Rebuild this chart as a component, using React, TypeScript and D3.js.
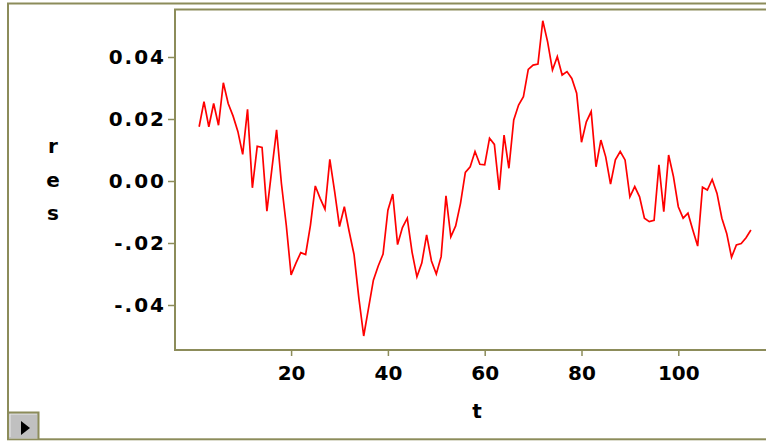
import { useEffect, useRef } from 'react';
import * as d3 from 'd3';

// residuals, t = 1..115
const residuals = [
  0.0175, 0.0256, 0.0175, 0.0250, 0.0180, 0.0317, 0.0250, 0.0210, 0.0160, 0.0086,
  0.0231, -0.0022, 0.0112, 0.0108, -0.0097, 0.0035, 0.0165, -0.0008, -0.0142, -0.0303,
  -0.0265, -0.0231, -0.0237, -0.0142, -0.0016, -0.0056, -0.0091, 0.0070, -0.0034, -0.0147,
  -0.0083, -0.0163, -0.0237, -0.0378, -0.0500, -0.0410, -0.0320, -0.0274, -0.0236, -0.0094,
  -0.0042, -0.0205, -0.0150, -0.0120, -0.0230, -0.0309, -0.0265, -0.0174, -0.0258, -0.0300,
  -0.0244, -0.0048, -0.0180, -0.0145, -0.0072, 0.0028, 0.0046, 0.0095, 0.0054, 0.0052,
  0.0138, 0.0118, -0.0029, 0.0148, 0.0041, 0.0197, 0.0245, 0.0272, 0.0360, 0.0374,
  0.0377, 0.0517, 0.0449, 0.0358, 0.0401, 0.0342, 0.0353, 0.0331, 0.0283, 0.0125,
  0.0191, 0.0224, 0.0046, 0.0132, 0.0078, -0.0010, 0.0068, 0.0095, 0.0068, -0.0051,
  -0.0018, -0.0051, -0.0120, -0.0131, -0.0127, 0.0052, -0.0099, 0.0084, 0.0014, -0.0083,
  -0.0120, -0.0104, -0.0158, -0.0210, -0.0020, -0.0029, 0.0005, -0.0040, -0.0120, -0.0169,
  -0.0246, -0.0206, -0.0202, -0.0183, -0.0158,
];

const xTicks = [20, 40, 60, 80, 100];
const yTicks = [0.04, 0.02, 0, -0.02, -0.04];
const yTickLabels = ['0.04', '0.02', '0.00', '-.02', '-.04'];
const yTitle = ['r', 'e', 's'];
const xTitle = 't';

const W = 766, H = 441;
const FRAME = '#8c8c5a';
const FONT = '"DejaVu Sans", Verdana, sans-serif';

export default function App() {
  const svgRef = useRef<SVGSVGElement>(null);

  useEffect(() => {
    if (!svgRef.current) return;
    const svg = d3.select(svgRef.current);
    svg.selectAll('*').remove();

    const x = d3.scaleLinear().domain([0, 115]).range([194.3, 750.9]);
    const y = d3.scaleLinear().domain([-0.04, 0.04]).range([305, 57]);

    svg.append('rect').attr('width', W).attr('height', H).attr('fill', '#fff');

    // outer window frame
    svg.append('rect')
      .attr('x', 8).attr('y', 3.5).attr('width', 820).attr('height', 435.8)
      .attr('fill', 'none').attr('stroke', FRAME).attr('stroke-width', 2);

    // plot frame
    svg.append('rect')
      .attr('x', 175).attr('y', 9.5).attr('width', 700).attr('height', 340.5)
      .attr('fill', 'none').attr('stroke', FRAME).attr('stroke-width', 2);

    // Axes
    svg.append('g')
      .attr('transform', 'translate(175,0)')
      .call(d3.axisLeft(y).tickValues(yTicks).tickSize(7).tickPadding(2)
        .tickFormat((_d, i) => yTickLabels[i]))
      .call(gg => gg.select('.domain').remove())
      .call(gg => gg.selectAll('.tick line').attr('stroke', FRAME).attr('stroke-width', 1.5))
      .call(gg => gg.selectAll('text')
        .attr('font-family', FONT).attr('font-size', 20).attr('font-weight', 'bold')
        .attr('letter-spacing', 2).attr('fill', '#000'));

    svg.append('g')
      .attr('transform', 'translate(0,350)')
      .call(d3.axisBottom(x).tickValues(xTicks).tickSize(6).tickPadding(10)
        .tickFormat(d => String(d)))
      .call(gg => gg.select('.domain').remove())
      .call(gg => gg.selectAll('.tick line').attr('stroke', FRAME).attr('stroke-width', 1.5))
      .call(gg => gg.selectAll('text')
        .attr('font-family', FONT).attr('font-size', 20).attr('font-weight', 'bold')
        .attr('fill', '#000'));

    // titles
    svg.append('g').selectAll('text')
      .data(yTitle)
      .enter().append('text')
      .attr('x', 53).attr('y', (_d, i) => 153 + i * 33.5)
      .attr('text-anchor', 'middle')
      .attr('font-family', FONT).attr('font-size', 20).attr('font-weight', 'bold')
      .text(d => d);

    svg.append('text')
      .attr('x', 477).attr('y', 418)
      .attr('text-anchor', 'middle')
      .attr('font-family', FONT).attr('font-size', 20).attr('font-weight', 'bold')
      .text(xTitle);

    // Line
    const line = d3.line<number>()
      .x((_d, i) => x(i + 1))
      .y(d => y(d));

    svg.append('path')
      .datum(residuals)
      .attr('d', line)
      .attr('fill', 'none')
      .attr('stroke', '#ff0000')
      .attr('stroke-width', 1.7)
      .attr('stroke-linejoin', 'miter');

    // little scroll button, bottom-left
    const btn = svg.append('g');
    btn.append('rect').attr('x', 9).attr('y', 413).attr('width', 29).attr('height', 25.5)
      .attr('fill', '#c0c0c0');
    btn.append('path').attr('d', 'M10,437 V414 H37').attr('fill', 'none')
      .attr('stroke', '#e8e8e8').attr('stroke-width', 1);
    btn.append('path').attr('d', 'M8,412.5 H38.5 V439').attr('fill', 'none')
      .attr('stroke', FRAME).attr('stroke-width', 2);
    btn.append('path').attr('d', 'M21,421 L30,428 L21,435 Z').attr('fill', '#000');
  }, []);

  return (
    <div style={{ position: 'absolute', left: 0, top: 0, width: W, height: H }}>
      <svg ref={svgRef} width={W} height={H} style={{ display: 'block' }} />
    </div>
  );
}
